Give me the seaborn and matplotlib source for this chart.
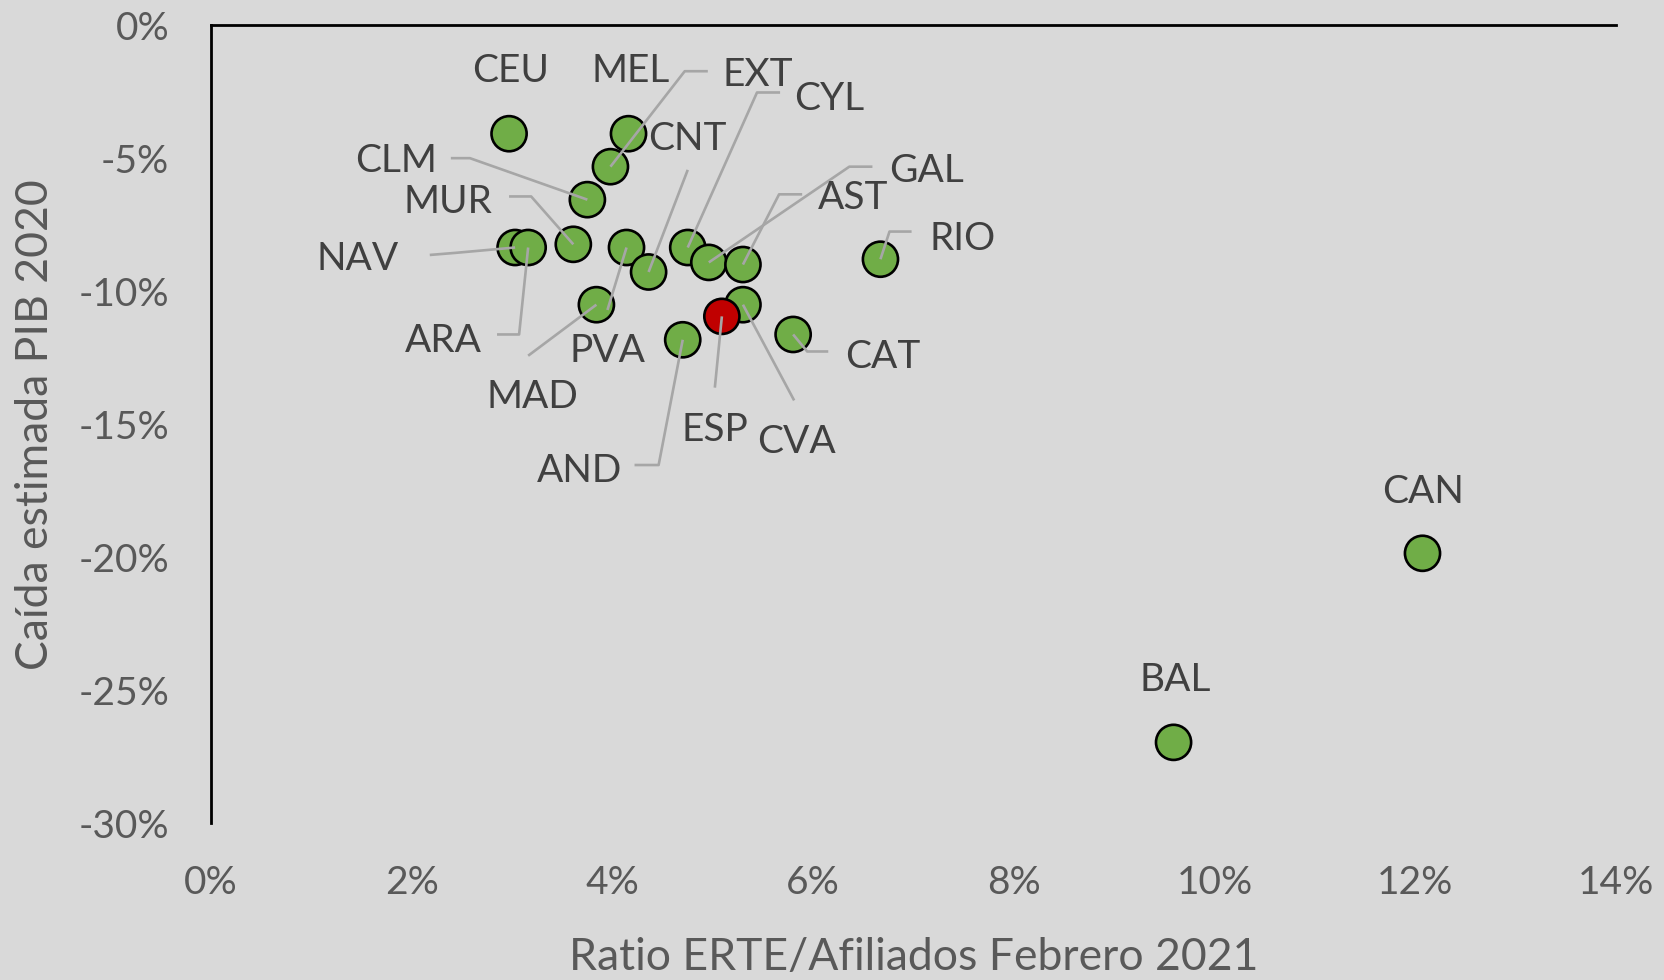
import matplotlib
matplotlib.use("Agg")
import matplotlib.pyplot as plt
import matplotlib.transforms as mtransforms
import seaborn as sns
import pandas as pd

# ---- data ----
regions = ["CEU", "MEL", "EXT", "CLM", "MUR", "NAV", "ARA", "PVA", "MAD", "CNT",
           "CYL", "GAL", "AST", "CVA", "ESP", "AND", "CAT", "RIO", "CAN", "BAL"]
ratio_erte = [2.97, 4.16, 3.98, 3.75, 3.61, 3.03, 3.16, 4.14, 3.84, 4.36,
              4.75, 4.96, 5.30, 5.30, 5.09, 4.70, 5.80, 6.67, 12.07, 9.59]
caida_pib = [-4.07, -4.07, -5.31, -6.55, -8.23, -8.35, -8.35, -8.35, -10.50, -9.27,
             -8.35, -8.91, -8.99, -10.50, -10.94, -11.82, -11.62, -8.79, -19.85, -26.96]
x_ticks = [0, 2, 4, 6, 8, 10, 12, 14]
y_ticks = [0, -5, -10, -15, -20, -25, -30]

# ---- label layout (data coordinates) ----
label_pos = {
    "CEU": (2.99, -1.60), "MEL": (4.18, -1.60), "EXT": (5.45, -1.76),
    "CYL": (6.16, -2.64), "CNT": (4.75, -4.15), "CLM": (1.84, -4.99),
    "MUR": (2.36, -6.51), "NAV": (1.46, -8.67), "ARA": (2.32, -11.74),
    "PVA": (3.95, -12.14), "MAD": (3.20, -13.86), "AND": (3.67, -16.65),
    "ESP": (5.02, -15.10), "CVA": (5.83, -15.54), "CAT": (6.69, -12.34),
    "RIO": (7.49, -7.91), "AST": (6.40, -6.39), "GAL": (7.13, -5.35),
    "CAN": (12.08, -17.45), "BAL": (9.61, -24.52),
}
leaders = {
    "EXT": [(4.95, -1.72), (4.72, -1.72)],
    "CYL": [(5.67, -2.52), (5.44, -2.52)],
    "CNT": [(4.75, -5.43)],
    "CLM": [(2.39, -4.99), (2.58, -4.99)],
    "MUR": [(2.97, -6.43), (3.19, -6.43)],
    "NAV": [(2.18, -8.63), (2.44, -8.55)],
    "ARA": [(2.85, -11.62), (3.07, -11.62)],
    "PVA": [(3.95, -10.70)],
    "MAD": [(3.16, -12.42)],
    "AND": [(4.22, -16.53), (4.46, -16.53)],
    "ESP": [(5.02, -13.62)],
    "CVA": [(5.81, -14.10)],
    "CAT": [(6.15, -12.26), (5.94, -12.26)],
    "RIO": [(6.98, -7.75), (6.76, -7.75)],
    "AST": [(5.89, -6.35), (5.66, -6.35)],
    "GAL": [(6.59, -5.31), (6.36, -5.31)],
}

df = pd.DataFrame({"region": regions, "ratio": ratio_erte, "caida": caida_pib})
df["grupo"] = ["España" if r == "ESP" else "CCAA" for r in regions]

BG = "#D9D9D9"
sns.set_theme(style="white")
plt.rcParams["font.family"] = ["Lato", "DejaVu Sans"]

fig = plt.figure(figsize=(16.65, 9.80), dpi=100, facecolor=BG)
ax = fig.add_axes([0.1267, 0.160, 0.8440, 0.814])
ax.set_facecolor(BG)

sns.scatterplot(data=df, x="ratio", y="caida", hue="grupo",
                palette={"CCAA": "#70AD47", "España": "#C00000"},
                s=640, edgecolor="black", linewidth=1.9, legend=False,
                ax=ax, zorder=3)

# shift labels slightly down (3 px) to match reference baseline
txt_tr = ax.transData + mtransforms.ScaledTranslation(0, -3 / 100, fig.dpi_scale_trans)
for name, xv, yv in zip(regions, ratio_erte, caida_pib):
    lx, ly = label_pos[name]
    ax.text(lx, ly, name, ha="center", va="center", fontsize=28,
            color="#404040", zorder=5, transform=txt_tr)
    if name in leaders:
        pts = leaders[name] + [(xv, yv)]
        ax.plot([p[0] for p in pts], [p[1] for p in pts], color="#A6A6A6",
                lw=1.9, zorder=4, solid_capstyle="butt")

ax.set_xlim(0, 14)
ax.set_ylim(-30, 0)
ax.set_xticks(x_ticks)
ax.set_yticks(y_ticks)
ax.set_xticklabels([f"{t}%" for t in x_ticks])
ax.set_yticklabels([f"{t}%" for t in y_ticks])
ax.tick_params(axis="both", length=0, labelsize=28, labelcolor="#595959")
ax.tick_params(axis="x", pad=30)
ax.tick_params(axis="y", pad=30)

for side in ["bottom", "right"]:
    ax.spines[side].set_visible(False)
for side in ["left", "top"]:
    ax.spines[side].set_visible(True)
    ax.spines[side].set_color("black")
    ax.spines[side].set_linewidth(2)

ax.set_xlabel("Ratio ERTE/Afiliados Febrero 2021", fontsize=32, color="#595959",
              labelpad=26)
ax.set_ylabel("Caída estimada PIB 2020", fontsize=32, color="#595959", labelpad=16)

fig.savefig("out.png", dpi=100, facecolor=BG)
